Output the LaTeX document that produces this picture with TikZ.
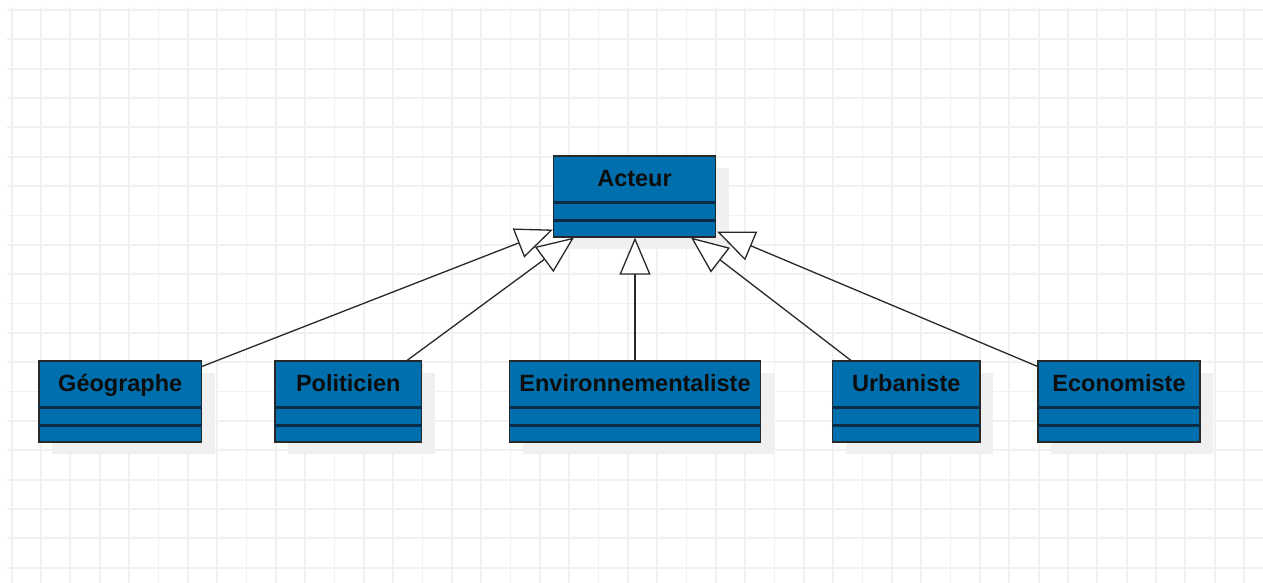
\documentclass[tikz,border=0pt]{standalone}
\usepackage{fontspec}
\setmainfont{Liberation Sans}
\usetikzlibrary{arrows.meta,shadows,calc}
\definecolor{umlfill}{RGB}{0,111,173}
\definecolor{umldiv}{RGB}{10,44,68}
\definecolor{umledge}{RGB}{40,40,40}
\definecolor{gridc}{RGB}{241,241,241}
\definecolor{shadowc}{RGB}{240,240,240}
\tikzset{
  umlbox/.style={draw=umledge, line width=1.2pt, fill=umlfill, rectangle, inner sep=0pt,
    drop shadow={shadow xshift=13pt, shadow yshift=-12pt, fill=shadowc, opacity=1}},
  divider/.style={draw=umldiv, line width=2.5pt},
  clslabel/.style={font=\fontsize{23.5}{28}\selectfont\bfseries, text=black!95, inner sep=0pt},
  gridline/.style={draw=gridc, line width=1.8pt},
  inherit/.style={draw=umledge, line width=1.3pt,
    -{Triangle[length=37pt, width=31pt, fill=white, line width=1.3pt]}}
}
\begin{document}
\begin{tikzpicture}[x=1pt, y=-1pt]
\useasboundingbox[fill=white] (0,0) rectangle (1263,583);
% grid
\foreach \k in {0,...,42} { \draw[gridline] ({11.7+29.34*\k},8) -- ({11.7+29.34*\k},583); }
\foreach \k in {0,...,19} { \draw[gridline] (7,{10+29.35*\k}) -- (1263,{10+29.35*\k}); }
% classes
\foreach \nm/\xl/\xr/\yt/\txt in {
  acteur/553.5/715.5/156/Acteur,
  geo/39/201.5/361/Géographe,
  pol/275/421.5/361/Politicien,
  env/509.5/760.5/361/Environnementaliste,
  urb/832.5/980/361/Urbaniste,
  eco/1038/1200/361/Economiste} {
  \node[umlbox, minimum width={\xr-\xl}, minimum height=81] (\nm) at ({(\xl+\xr)/2},{\yt+40.5}) {};
  \node[clslabel, anchor=base] (\nm-t) at ([yshift=-30.7pt]\nm.north) {\txt};
  \draw[divider] ([yshift=35pt]\nm.south west) -- ([yshift=35pt]\nm.south east);
  \draw[divider] ([yshift=17pt]\nm.south west) -- ([yshift=17pt]\nm.south east);
}
% inheritance connectors
\draw[inherit] ([yshift=-6pt]geo.north east) -- ([yshift=8pt]acteur.south west);
\draw[inherit] ([xshift=-15pt]pol.north east) -- ([xshift=21pt]acteur.south west);
\draw[inherit] (env.north) -- (env.north |- acteur.south);
\draw[inherit] ([xshift=19pt]urb.north west) -- ([xshift=-25pt]acteur.south east);
\draw[inherit] ([yshift=-6pt]eco.north west) -- ([xshift=1pt,yshift=6pt]acteur.south east);
\end{tikzpicture}
\end{document}
